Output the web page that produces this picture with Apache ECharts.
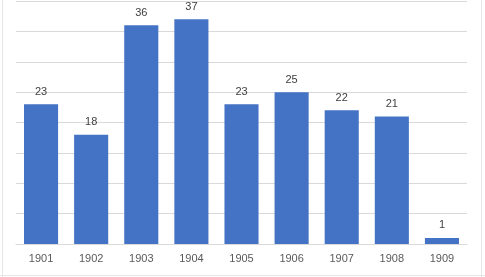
<!DOCTYPE html>
<html>
<head>
<meta charset="utf-8">
<script src="https://cdn.jsdelivr.net/npm/echarts@6/dist/echarts.min.js"></script>
<style>
html,body{margin:0;padding:0;background:#fff;}
#c{width:485px;height:277px;}
</style>
</head>
<body>
<div id="c"></div>
<script>
const categories = ['1901','1902','1903','1904','1905','1906','1907','1908','1909'];
const values = [23, 18, 36, 37, 23, 25, 22, 21, 1];
const yMin = 0, yMax = 40, yInterval = 5;

const chart = echarts.init(document.getElementById('c'));
const faint = '#e6e6e6';
chart.setOption({
  animation: false,
  backgroundColor: '#fff',
  grid: {left: 16, right: 18, top: 1, bottom: 33},
  xAxis: {
    type: 'category',
    data: categories,
    axisLine: {show: true, lineStyle: {color: '#d9d9d9', width: 1}},
    axisTick: {show: false},
    axisLabel: {color: '#595959', fontSize: 11, fontFamily: 'Liberation Sans', margin: 9}
  },
  yAxis: {
    type: 'value',
    min: yMin, max: yMax, interval: yInterval,
    axisLine: {show: false},
    axisTick: {show: false},
    axisLabel: {show: false},
    splitLine: {lineStyle: {color: '#d9d9d9', width: 1}}
  },
  series: [{
    type: 'bar',
    data: values,
    barCategoryGap: '32%',
    itemStyle: {color: '#4472C4'},
    label: {show: true, position: 'top', distance: 7, color: '#404040', fontSize: 11, fontFamily: 'Liberation Sans'}
  }],
  graphic: [
    {type: 'line', shape: {x1: 2.5, y1: 0, x2: 2.5, y2: 277}, style: {stroke: faint, lineWidth: 1}, silent: true},
    {type: 'line', shape: {x1: 481.5, y1: 0, x2: 481.5, y2: 277}, style: {stroke: faint, lineWidth: 1}, silent: true},
    {type: 'line', shape: {x1: 0, y1: 275.5, x2: 485, y2: 275.5}, style: {stroke: faint, lineWidth: 1}, silent: true}
  ]
});
</script>
</body>
</html>
